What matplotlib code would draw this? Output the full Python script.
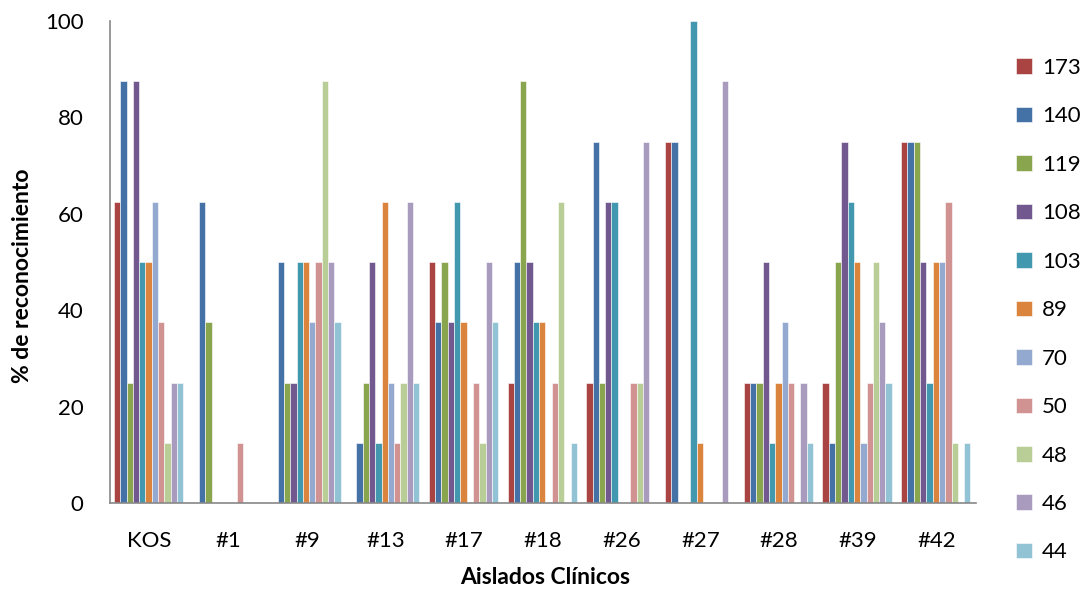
import numpy as np
import matplotlib.pyplot as plt

plt.rcParams['font.family'] = ['Lato', 'DejaVu Sans']

# Datos
grupos = ['KOS', '#1', '#9', '#13', '#17', '#18', '#26', '#27', '#28', '#39', '#42']
series = ['173', '140', '119', '108', '103', '89', '70', '50', '48', '46', '44']

s173 = [62.5, 0, 0, 0, 50, 25, 25, 75, 25, 25, 75]
s140 = [87.5, 62.5, 50, 12.5, 37.5, 50, 75, 75, 25, 12.5, 75]
s119 = [25, 37.5, 25, 25, 50, 87.5, 25, 0, 25, 50, 75]
s108 = [87.5, 0, 25, 50, 37.5, 50, 62.5, 0, 50, 75, 50]
s103 = [50, 0, 50, 12.5, 62.5, 37.5, 62.5, 100, 12.5, 62.5, 25]
s89 = [50, 0, 50, 62.5, 37.5, 37.5, 0, 12.5, 25, 50, 50]
s70 = [62.5, 0, 37.5, 25, 0, 0, 0, 0, 37.5, 12.5, 50]
s50 = [37.5, 12.5, 50, 12.5, 25, 25, 25, 0, 25, 25, 62.5]
s48 = [12.5, 0, 87.5, 25, 12.5, 62.5, 25, 0, 0, 50, 12.5]
s46 = [25, 0, 50, 62.5, 50, 0, 75, 87.5, 25, 37.5, 0]
s44 = [25, 0, 37.5, 25, 37.5, 12.5, 0, 0, 12.5, 25, 12.5]

valores = [s173, s140, s119, s108, s103, s89, s70, s50, s48, s46, s44]
colores = ['#A94442', '#4471A6', '#89A54E', '#71588F', '#4198AF', '#DB843D',
           '#93A9CF', '#D19392', '#B9CD96', '#A99BBD', '#92C3D4']

fig = plt.figure(figsize=(10.9, 5.92), dpi=100)
ax = fig.add_axes([0.1009, 0.1503, 0.7945, 0.8142])

x = np.arange(len(grupos))
w = 0.08
handles = []
for i, (nombre, vals, c) in enumerate(zip(series, valores, colores)):
    pos = x - 5 * w + i * w - 0.01
    b = ax.bar(pos, vals, w, color=c, edgecolor='white', linewidth=0.4, label=nombre)
    handles.append(b)

ax.set_xlim(-0.5, len(grupos) - 0.5)
ax.set_ylim(0, 100)
ax.set_yticks([0, 20, 40, 60, 80, 100])
ax.set_xticks(x)
ax.set_xticklabels(grupos)
ax.tick_params(axis='both', length=0, labelsize=16, colors='black')
ax.tick_params(axis='x', pad=20)
ax.tick_params(axis='y', pad=19)
for s in ['top', 'right']:
    ax.spines[s].set_visible(False)
for s in ['left', 'bottom']:
    ax.spines[s].set_color('#888888')
    ax.spines[s].set_linewidth(1.2)

fig.text(0.021, 0.535, '% de reconocimiento', rotation=90, ha='center', va='center',
         fontsize=16.5, fontweight='bold')
fig.text(0.5, 0.024, 'Aislados Clínicos', ha='center', va='center',
         fontsize=16.5, fontweight='bold')

leg = fig.legend(handles=handles, labels=series, loc='center left',
                 bbox_to_anchor=(0.914, 0.476), frameon=False, fontsize=16,
                 handlelength=0.7, handleheight=0.7, handletextpad=0.45,
                 labelspacing=1.28)

fig.savefig('out.png', dpi=100)
